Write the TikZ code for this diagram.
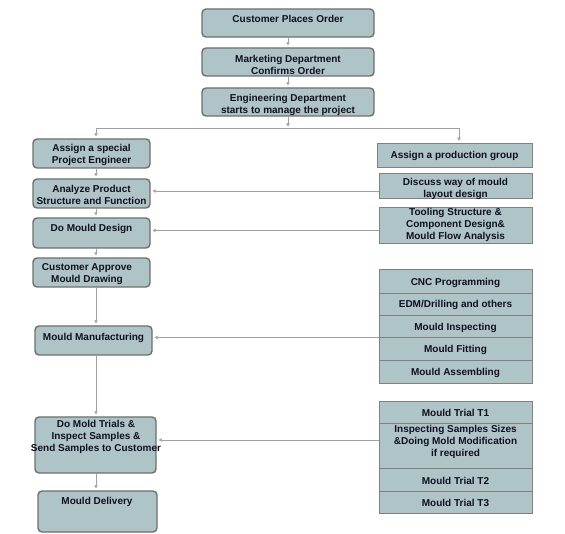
\documentclass[tikz,border=0pt]{standalone}
\usepackage{fontspec}
\setmainfont{Liberation Sans}
\usetikzlibrary{arrows.meta}
\definecolor{boxfill}{HTML}{AFC4C7}
\definecolor{lborder}{HTML}{6F6F6F}
\definecolor{rborder}{HTML}{808080}
\definecolor{conncol}{HTML}{A0A0A0}
\definecolor{txtc}{HTML}{101020}
\begin{document}
\begin{tikzpicture}[x=1pt,y=-1pt,
 lbox/.style={draw=lborder, line width=1.4pt, fill=boxfill, rounded corners=4pt, inner sep=0pt},
 rbox/.style={draw=rborder, line width=0.8pt, fill=boxfill, inner sep=0pt, minimum width=153pt},
 txt/.style={font=\fontsize{10}{12}\selectfont\bfseries, text=txtc, align=center, inner sep=0pt},
 conn/.style={draw=conncol, line width=0.6pt},
 arr/.style={conn, -{Triangle[length=3pt,width=3.5pt]}, shorten >=2pt}]
\useasboundingbox (0,0) rectangle (565,534);
\fill[white] (0,0) rectangle (565,534);
% top column
\node[lbox, minimum width=172pt, minimum height=28pt] (t1) at (288,23) {};
\node[txt] (t1t) at (288,18.5) {Customer Places Order};
\node[lbox, minimum width=172pt, minimum height=28pt] (t2) at (288,62) {};
\node[txt] (t2t) at (288,64.5) {Marketing Department\\Confirms Order};
\node[lbox, minimum width=172pt, minimum height=28pt] (t3) at (288,102) {};
\node[txt] (t3t) at (288,104.5) {Engineering Department\\starts to manage the project};
% left column
\node[lbox, minimum width=117pt, minimum height=29pt] (l1) at (91.5,153.5) {};
\node[txt] (l1t) at (91.5,155) {Assign a special\\Project Engineer};
\node[lbox, minimum width=117pt, minimum height=29pt] (l2) at (91.5,193.5) {};
\node[txt] (l2t) at (91.5,194.5) {Analyze Product\\Structure and Function};
\node[lbox, minimum width=117pt, minimum height=30pt] (l3) at (91.5,233) {};
\node[txt] (l3t) at (91.5,228.5) {Do Mould Design};
\node[lbox, minimum width=117pt, minimum height=29pt] (l4) at (91.5,272.5) {};
\node[txt] (l4t) at (87,274) {Customer Approve\\Mould Drawing};
\node[lbox, minimum width=117pt, minimum height=29pt] (l5) at (93.5,340.5) {};
\node[txt] (l5t) at (93.5,337.5) {Mould Manufacturing};
\node[lbox, minimum width=121pt, minimum height=56pt] (l6) at (95.5,445) {};
\node[txt] (l6t) at (96,436.5) {Do Mold Trials \&\\Inspect Samples \&\\Send Samples to Customer};
\node[lbox, minimum width=119pt, minimum height=41pt] (l7) at (97.5,511.5) {};
\node[txt] (l7t) at (97,502) {Mould Delivery};
% right column
\node[rbox, minimum width=155pt, minimum height=24pt] (r1) at (454.5,155) {};
\node[txt] (r1t) at (454.5,155.5) {Assign a production group};
\node[rbox, minimum height=25pt] (r2) at (455.5,185.5) {};
\node[txt] (r2t) at (455.5,189) {Discuss way of mould\\layout design};
\node[rbox, minimum height=36pt] (r3) at (455.5,225) {};
\node[txt] (r3t) at (455.5,225) {Tooling Structure \&\\Component Design\&\\Mould Flow Analysis};
\node[rbox, minimum height=24pt] (r4) at (455.5,281) {};
\node[txt] (r4t) at (455.5,282.5) {CNC Programming};
\node[rbox, minimum height=22pt] (r5) at (455.5,304) {};
\node[txt] (r5t) at (455.5,305) {EDM/Drilling and others};
\node[rbox, minimum height=22pt] (r6) at (455.5,326) {};
\node[txt] (r6t) at (455.5,327.5) {Mould Inspecting};
\node[rbox, minimum height=23pt] (r7) at (455.5,348.5) {};
\node[txt] (r7t) at (455.5,350) {Mould Fitting};
\node[rbox, minimum height=23pt] (r8) at (455.5,371.5) {};
\node[txt] (r8t) at (455.5,372.5) {Mould Assembling};
\node[rbox, minimum height=22pt] (r9) at (455.5,412) {};
\node[txt] (r9t) at (455.5,413) {Mould Trial T1};
\node[rbox, minimum height=45pt] (r10) at (455.5,445.5) {};
\node[txt] (r10t) at (455.5,441.5) {Inspecting Samples Sizes\\\&Doing Mold Modification\\if required};
\node[rbox, minimum height=23pt] (r11) at (455.5,479.5) {};
\node[txt] (r11t) at (455.5,480.5) {Mould Trial T2};
\node[rbox, minimum height=22pt] (r12) at (455.5,502) {};
\node[txt] (r12t) at (455.5,503) {Mould Trial T3};
% connectors
\coordinate (jm) at (288,128.5);
\coordinate (jl) at (96,128.5);
\coordinate (jr) at (459,128.5);
\draw[arr] (t1.south) -- (t2.north);
\draw[arr] (t2.south) -- (t3.north);
\draw[arr] (t3.south) -- (jm);
\draw[conn] (jl) -- (jr);
\draw[arr] (jl) -- (jl |- l1.north);
\draw[arr] (jr) -- (jr |- r1.north);
\draw[arr] (jl |- l1.south) -- (jl |- l2.north);
\draw[arr] (jl |- l2.south) -- (jl |- l3.north);
\draw[arr] (jl |- l3.south) -- (jl |- l4.north);
\draw[arr] (jl |- l4.south) -- (jl |- l5.north);
\draw[arr] (jl |- l5.south) -- (jl |- l6.north);
\draw[arr] (jl |- l6.south) -- (jl |- l7.north);
\draw[arr] (r2.west |- 0,191) -- (l2.east |- 0,191);
\draw[arr] (r3.west |- 0,230.5) -- (l3.east |- 0,230.5);
\draw[arr] (r6.west |- 0,337.5) -- (l5.east |- 0,337.5);
\draw[arr] (r10.west |- 0,440) -- (l6.east |- 0,440);
\end{tikzpicture}
\end{document}
